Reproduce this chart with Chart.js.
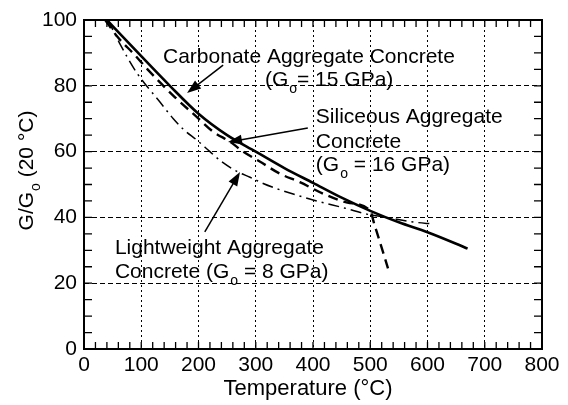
<!DOCTYPE html>
<html>
<head>
<meta charset="utf-8">
<script src="https://cdn.jsdelivr.net/npm/chart.js@4"></script>
<style>
  html, body { margin: 0; padding: 0; background: #fff; }
  #wrap { width: 568px; height: 405px; }
</style>
</head>
<body>
<div id="wrap"><canvas id="chart" width="568" height="405"></canvas></div>
<script>
// values (temperature in C, G/Go in %)
const carbonateT = [40, 100, 150, 200, 250, 300, 350, 400, 450, 500, 550, 600, 650, 670];
const carbonateG = [100, 89, 80, 71.5, 65, 60, 55, 50.5, 46, 42, 38.5, 35.5, 32, 30.5];

const siliceousT = [37, 58, 89, 111, 159, 194, 226, 255, 278, 307, 342, 377, 418, 460, 500, 507, 516, 531];
const siliceousG = [100, 95, 89.3, 85, 76.5, 71, 66, 63, 60, 57, 53.3, 50.7, 47.2, 44.5, 42, 38, 33, 24.5];

const lightT = [42, 62, 92, 133, 156, 176, 197, 220, 240, 267, 290, 313, 337, 371, 400, 456, 494, 529, 575, 610];
const lightG = [100, 93, 84, 75, 70, 66.4, 63.5, 60, 57, 54, 52.2, 50.3, 48.7, 46.8, 45.3, 42.8, 41, 40, 38.6, 38];

const xTicks = [0, 100, 200, 300, 400, 500, 600, 700, 800];
const yTicks = [0, 20, 40, 60, 80, 100];

// labels and arrows, placed in data units
const labels = [
  { x: 138, y: 88.8, parts: [['Carbonate Aggregate Concrete']] },
  { x: 316, y: 81.8, parts: [['(G'], ['o', 'sub'], ['= 15 GPa)']] },
  { x: 405, y: 70.5, parts: [['Siliceous Aggregate']] },
  { x: 405, y: 62.9, parts: [['Concrete']] },
  { x: 405, y: 55.9, parts: [['(G'], ['o', 'sub'], [' = 16 GPa)']] },
  { x: 54, y: 30.7, parts: [['Lightweight Aggregate']] },
  { x: 54, y: 23.4, parts: [['Concrete (G'], ['o', 'sub'], [' = 8 GPa)']] }
];
const arrows = [
  { from: [243, 86.3], to: [180, 77.8] },
  { from: [391, 67.2], to: [251.5, 62.9] },
  { from: [211, 35.6], to: [272.5, 53.8] }
];

const FONT = '"Liberation Sans", Arial, sans-serif';

function toPoints(xs, ys) {
  return xs.map((x, i) => ({ x: x, y: ys[i] }));
}

function drawParts(ctx, parts, x, y, size) {
  let cx = x;
  parts.forEach(p => {
    if (p[1] === 'sub') {
      ctx.font = Math.round(size * 0.65) + 'px ' + FONT;
      ctx.fillText(p[0], cx + 1, y + size * 0.45);
      cx += ctx.measureText(p[0]).width + 1;
    } else {
      ctx.font = size + 'px ' + FONT;
      ctx.fillText(p[0], cx, y);
      cx += ctx.measureText(p[0]).width;
    }
  });
}

const decorations = {
  id: 'decorations',
  afterDraw(chart) {
    const ctx = chart.ctx;
    const xs = chart.scales.x;
    const ys = chart.scales.y;
    const area = chart.chartArea;
    ctx.save();
    ctx.strokeStyle = '#000';
    ctx.fillStyle = '#000';

    // frame
    ctx.lineWidth = 2;
    ctx.setLineDash([]);
    ctx.strokeRect(area.left, area.top, area.right - area.left, area.bottom - area.top);

    // inward minor ticks
    ctx.lineWidth = 1.3;
    ctx.beginPath();
    for (let v = 0; v <= 800; v += 20) {
      const px = xs.getPixelForValue(v);
      ctx.moveTo(px, area.bottom); ctx.lineTo(px, area.bottom - 7);
      ctx.moveTo(px, area.top); ctx.lineTo(px, area.top + 7);
    }
    for (let v = 0; v <= 100; v += 5) {
      const py = ys.getPixelForValue(v);
      ctx.moveTo(area.left, py); ctx.lineTo(area.left + 8, py);
      ctx.moveTo(area.right, py); ctx.lineTo(area.right - 8, py);
    }
    ctx.stroke();

    // arrows
    arrows.forEach(a => {
      const x1 = xs.getPixelForValue(a.from[0]), y1 = ys.getPixelForValue(a.from[1]);
      const x2 = xs.getPixelForValue(a.to[0]), y2 = ys.getPixelForValue(a.to[1]);
      const ang = Math.atan2(y2 - y1, x2 - x1);
      ctx.lineWidth = 1.5;
      ctx.beginPath();
      ctx.moveTo(x1, y1);
      ctx.lineTo(x2 - Math.cos(ang) * 8, y2 - Math.sin(ang) * 8);
      ctx.stroke();
      ctx.beginPath();
      ctx.moveTo(x2, y2);
      ctx.lineTo(x2 - Math.cos(ang) * 14 - Math.sin(ang) * 5, y2 - Math.sin(ang) * 14 + Math.cos(ang) * 5);
      ctx.lineTo(x2 - Math.cos(ang) * 14 + Math.sin(ang) * 5, y2 - Math.sin(ang) * 14 - Math.cos(ang) * 5);
      ctx.closePath();
      ctx.fill();
    });

    // labels
    ctx.textBaseline = 'middle';
    ctx.textAlign = 'left';
    labels.forEach(l => {
      drawParts(ctx, l.parts, xs.getPixelForValue(l.x), ys.getPixelForValue(l.y), 21);
    });

    // axis titles
    ctx.font = '22px ' + FONT;
    ctx.textAlign = 'center';
    ctx.fillText('Temperature (\u00B0C)', (area.left + area.right) / 2 - 5, 389);

    ctx.translate(27, (area.top + area.bottom) / 2 - 14);
    ctx.rotate(-Math.PI / 2);
    ctx.textAlign = 'left';
    const parts = [['G/G'], ['o', 'sub'], [' (20 \u00B0C)']];
    let w = 0;
    parts.forEach(p => {
      ctx.font = (p[1] === 'sub' ? 14 : 21) + 'px ' + FONT;
      w += ctx.measureText(p[0]).width + (p[1] === 'sub' ? 1 : 0);
    });
    drawParts(ctx, parts, -w / 2, 0, 21);
    ctx.restore();
  }
};

new Chart(document.getElementById('chart'), {
  type: 'line',
  data: {
    datasets: [
      {
        label: 'Carbonate Aggregate Concrete',
        data: toPoints(carbonateT, carbonateG),
        borderColor: '#000',
        borderWidth: 2.6,
        cubicInterpolationMode: 'monotone'
      },
      {
        label: 'Siliceous Aggregate Concrete',
        data: toPoints(siliceousT, siliceousG),
        borderColor: '#000',
        borderWidth: 2.4,
        borderDash: [10, 6],
        cubicInterpolationMode: 'monotone'
      },
      {
        label: 'Lightweight Aggregate Concrete',
        data: toPoints(lightT, lightG),
        borderColor: '#000',
        borderWidth: 1.5,
        borderDash: [11, 5, 2, 5],
        cubicInterpolationMode: 'monotone'
      }
    ]
  },
  options: {
    responsive: false,
    animation: false,
    events: [],
    layout: { padding: { top: 20, right: 26, left: 0, bottom: 0 } },
    elements: { point: { radius: 0 } },
    plugins: { legend: { display: false }, tooltip: { enabled: false } },
    scales: {
      x: {
        type: 'linear',
        min: 0,
        max: 800,
        afterFit: s => { s.height = 56; },
        afterBuildTicks: s => { s.ticks = xTicks.map(v => ({ value: v })); },
        ticks: { color: '#000', padding: 4, font: { family: FONT, size: 21 }, maxRotation: 0 },
        grid: { color: '#000', lineWidth: 1, drawTicks: false },
        border: { display: false, dash: [2, 3] }
      },
      y: {
        type: 'linear',
        min: 0,
        max: 100,
        afterFit: s => { s.width = 84; },
        afterBuildTicks: s => { s.ticks = yTicks.map(v => ({ value: v })); },
        ticks: { color: '#000', padding: 7, font: { family: FONT, size: 21 } },
        grid: { color: '#000', lineWidth: 1, drawTicks: false },
        border: { display: false, dash: [5, 3] }
      }
    }
  },
  plugins: [decorations]
});
</script>
</body>
</html>
